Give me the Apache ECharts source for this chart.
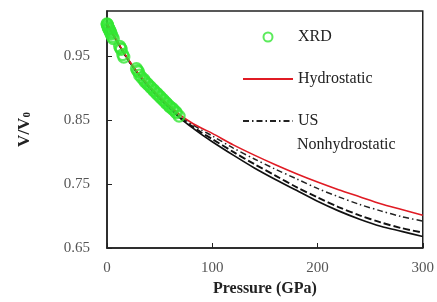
<!DOCTYPE html>
<html>
<head>
<meta charset="utf-8">
<script src="https://cdn.jsdelivr.net/npm/echarts@6/dist/echarts.min.js"></script>
<style>
  html, body { margin: 0; padding: 0; background: #fff; }
  #chart { width: 437px; height: 302px; }
</style>
</head>
<body>
<div id="chart"></div>
<script>
// pressure grid (GPa) for the EOS curves
const pressure = [0, 10, 20, 30, 40, 50, 60, 70, 80, 90, 100, 120, 140, 160, 180, 200, 220, 240, 260, 280, 300];
const hydrostatic = [1.000, 0.972, 0.945, 0.922, 0.903, 0.886, 0.871, 0.857, 0.846, 0.837, 0.829, 0.811, 0.795, 0.780, 0.766, 0.753, 0.741, 0.730, 0.719, 0.710, 0.701];
const usNonhydro = [1.000, 0.971, 0.944, 0.921, 0.902, 0.885, 0.870, 0.855, 0.844, 0.834, 0.825, 0.806, 0.789, 0.773, 0.758, 0.743, 0.730, 0.718, 0.708, 0.699, 0.692];
const nonhydroDashed = [1.000, 0.971, 0.944, 0.921, 0.901, 0.884, 0.868, 0.853, 0.841, 0.830, 0.820, 0.800, 0.781, 0.763, 0.745, 0.729, 0.714, 0.701, 0.690, 0.681, 0.674];
const nonhydroSolid = [1.000, 0.971, 0.944, 0.921, 0.901, 0.883, 0.867, 0.852, 0.839, 0.827, 0.816, 0.795, 0.775, 0.757, 0.740, 0.723, 0.708, 0.695, 0.684, 0.676, 0.668];

// XRD measurements: [P (GPa), V/V0]
const xrdP = [0, 0.3, 0.7, 1, 1.5, 2, 2.5, 3, 3.5, 4, 5, 6, 12, 13, 13.5, 15, 16, 28, 29, 30, 31, 33, 35, 36, 38, 39, 41, 42, 44, 45, 47, 48, 50, 51, 53, 54, 56, 57, 59, 60, 62, 63, 65, 66, 68.5];
const xrdV = [1.0, 0.999, 0.997, 0.995, 0.993, 0.992, 0.99, 0.988, 0.986, 0.984, 0.98, 0.977, 0.965, 0.962, 0.96, 0.952, 0.948, 0.93, 0.927, 0.925, 0.92, 0.916, 0.913, 0.91, 0.907, 0.905, 0.902, 0.9, 0.897, 0.895, 0.892, 0.89, 0.887, 0.885, 0.882, 0.88, 0.877, 0.875, 0.872, 0.87, 0.868, 0.866, 0.863, 0.861, 0.856];

const yTicks = [0.65, 0.75, 0.85, 0.95];

const pair = (xs, ys) => xs.map((x, i) => [x, ys[i]]);
const serif = '"Liberation Serif", "DejaVu Serif", serif';

const chart = echarts.init(document.getElementById('chart'));

chart.setOption({
  animation: false,
  textStyle: { fontFamily: serif },
  grid: { left: 107, right: 11, top: 11, bottom: 51, show: true, borderColor: '#222', borderWidth: 1.5, backgroundColor: '#fff' },
  legend: {
    left: 237, top: 24, orient: 'vertical', itemWidth: 50, itemHeight: 9, itemGap: 26,
    textStyle: { fontFamily: serif, fontSize: 16, color: '#222' },
    data: [
      { name: 'XRD', icon: 'circle' },
      { name: 'Hydrostatic', itemStyle: { opacity: 0 } },
      { name: 'US', itemStyle: { opacity: 0 } }
    ]
  },
  graphic: [
    { type: 'text', left: 297, top: 137, style: { text: 'Nonhydrostatic', font: '16px "Liberation Serif"', fill: '#222' } }
  ],
  xAxis: {
    type: 'value', min: 0, max: 300, interval: 100,
    name: 'Pressure (GPa)', nameLocation: 'middle', nameGap: 33,
    nameTextStyle: { fontFamily: serif, fontSize: 16, fontWeight: 'bold', color: '#222' },
    axisLine: { lineStyle: { color: '#222', width: 1.5 } },
    axisTick: { inside: true, length: 5, lineStyle: { color: '#222' } },
    axisLabel: { margin: 13, fontSize: 15, color: '#555', fontFamily: serif },
    splitLine: { show: false }
  },
  yAxis: {
    type: 'value', min: 0.65, max: 1.02, interval: 0.1,
    name: 'V/V{sub|0}', nameLocation: 'middle', nameGap: 74, nameRotate: 90,
    nameTextStyle: {
      fontFamily: serif, fontSize: 17, fontWeight: 'bold', color: '#222',
      rich: { sub: { fontSize: 11, fontWeight: 'bold', verticalAlign: 'bottom', padding: [6, 0, 0, 0] } }
    },
    axisLine: { lineStyle: { color: '#222', width: 1.5 } },
    axisTick: { inside: true, length: 5, lineStyle: { color: '#222' } },
    axisLabel: {
      margin: 17, fontSize: 15, color: '#555', fontFamily: serif, showMaxLabel: false,
      formatter: v => yTicks.some(t => Math.abs(t - v) < 1e-6) ? v.toFixed(2) : ''
    },
    splitLine: { show: false }
  },
  series: [
    {
      name: 'nonhydro solid', type: 'line', data: pair(pressure, nonhydroSolid),
      smooth: 0.3, symbol: 'none', lineStyle: { color: '#111', width: 1.7 }, z: 2
    },
    {
      name: 'nonhydro dashed', type: 'line', data: pair(pressure, nonhydroDashed),
      smooth: 0.3, symbol: 'none', lineStyle: { color: '#111', width: 1.9, type: [7, 3] }, z: 2
    },
    {
      name: 'US', type: 'line', data: pair(pressure, usNonhydro),
      smooth: 0.3, symbol: 'none', itemStyle: { color: '#222' },
      lineStyle: { color: '#222', width: 1.5, type: [6, 3, 1.5, 3] }, z: 3
    },
    {
      name: 'Hydrostatic', type: 'line', data: pair(pressure, hydrostatic),
      smooth: 0.3, symbol: 'none', itemStyle: { color: '#e01b24' },
      lineStyle: { color: '#e01b24', width: 1.6 }, z: 3
    },
    {
      name: 'XRD', type: 'scatter', data: pair(xrdP, xrdV), symbol: 'circle', symbolSize: 11,
      itemStyle: { color: 'rgba(255,255,255,0)', borderColor: '#33e633', borderWidth: 2.2 }, z: 5
    }
  ]
});
</script>
</body>
</html>
